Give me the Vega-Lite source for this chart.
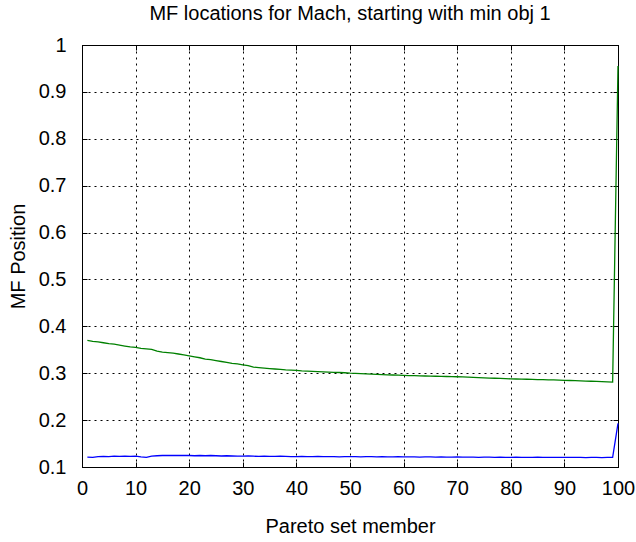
{
  "$schema": "https://vega.github.io/schema/vega-lite/v6.json",
  "width": 536,
  "height": 422,
  "autosize": {"type": "none"},
  "padding": {"left": 82, "top": 45, "right": 18, "bottom": 75},
  "background": "white",
  "title": {"text": "MF locations for Mach, starting with min obj 1", "font": "Liberation Sans", "fontSize": 20, "fontWeight": "normal", "color": "black", "offset": 11, "anchor": "middle"},
  "config": {
    "view": {"stroke": "black", "strokeWidth": 1},
    "axis": {"labelFont": "Liberation Sans", "titleFont": "Liberation Sans", "labelColor": "black", "titleColor": "black", "labelFontSize": 20, "titleFontSize": 20, "titleFontWeight": "normal", "domainColor": "black", "tickColor": "black", "tickSize": -5, "labelFlush": false}
  },
  "datasets": {
    "pts": [
      {"member": 1, "series": "g", "pos": 0.370}, {"member": 2, "series": "g", "pos": 0.368}, {"member": 3, "series": "g", "pos": 0.367}, {"member": 4, "series": "g", "pos": 0.365}, {"member": 5, "series": "g", "pos": 0.363},
      {"member": 6, "series": "g", "pos": 0.362}, {"member": 7, "series": "g", "pos": 0.360}, {"member": 8, "series": "g", "pos": 0.358}, {"member": 9, "series": "g", "pos": 0.356}, {"member": 10, "series": "g", "pos": 0.355},
      {"member": 11, "series": "g", "pos": 0.353}, {"member": 12, "series": "g", "pos": 0.352}, {"member": 13, "series": "g", "pos": 0.351}, {"member": 14, "series": "g", "pos": 0.347}, {"member": 15, "series": "g", "pos": 0.345},
      {"member": 16, "series": "g", "pos": 0.344}, {"member": 17, "series": "g", "pos": 0.343}, {"member": 18, "series": "g", "pos": 0.341}, {"member": 19, "series": "g", "pos": 0.339}, {"member": 20, "series": "g", "pos": 0.337},
      {"member": 21, "series": "g", "pos": 0.335}, {"member": 22, "series": "g", "pos": 0.333}, {"member": 23, "series": "g", "pos": 0.330}, {"member": 24, "series": "g", "pos": 0.329}, {"member": 25, "series": "g", "pos": 0.327},
      {"member": 26, "series": "g", "pos": 0.325}, {"member": 27, "series": "g", "pos": 0.323}, {"member": 28, "series": "g", "pos": 0.321}, {"member": 29, "series": "g", "pos": 0.320}, {"member": 30, "series": "g", "pos": 0.318},
      {"member": 31, "series": "g", "pos": 0.316}, {"member": 32, "series": "g", "pos": 0.313}, {"member": 33, "series": "g", "pos": 0.312}, {"member": 34, "series": "g", "pos": 0.311}, {"member": 35, "series": "g", "pos": 0.310},
      {"member": 36, "series": "g", "pos": 0.309}, {"member": 37, "series": "g", "pos": 0.308}, {"member": 38, "series": "g", "pos": 0.307}, {"member": 39, "series": "g", "pos": 0.3065}, {"member": 40, "series": "g", "pos": 0.306},
      {"member": 41, "series": "g", "pos": 0.305}, {"member": 42, "series": "g", "pos": 0.3045}, {"member": 43, "series": "g", "pos": 0.304}, {"member": 44, "series": "g", "pos": 0.3035}, {"member": 45, "series": "g", "pos": 0.303},
      {"member": 46, "series": "g", "pos": 0.3025}, {"member": 47, "series": "g", "pos": 0.302}, {"member": 48, "series": "g", "pos": 0.3015}, {"member": 49, "series": "g", "pos": 0.301}, {"member": 50, "series": "g", "pos": 0.300},
      {"member": 51, "series": "g", "pos": 0.2995}, {"member": 52, "series": "g", "pos": 0.299}, {"member": 53, "series": "g", "pos": 0.2985}, {"member": 54, "series": "g", "pos": 0.298}, {"member": 55, "series": "g", "pos": 0.2975},
      {"member": 56, "series": "g", "pos": 0.297}, {"member": 57, "series": "g", "pos": 0.2966}, {"member": 58, "series": "g", "pos": 0.2962}, {"member": 59, "series": "g", "pos": 0.2958}, {"member": 60, "series": "g", "pos": 0.2955},
      {"member": 61, "series": "g", "pos": 0.295}, {"member": 62, "series": "g", "pos": 0.2947}, {"member": 63, "series": "g", "pos": 0.2944}, {"member": 64, "series": "g", "pos": 0.2941}, {"member": 65, "series": "g", "pos": 0.2938},
      {"member": 66, "series": "g", "pos": 0.2935}, {"member": 67, "series": "g", "pos": 0.2932}, {"member": 68, "series": "g", "pos": 0.293}, {"member": 69, "series": "g", "pos": 0.2928}, {"member": 70, "series": "g", "pos": 0.2925},
      {"member": 71, "series": "g", "pos": 0.292}, {"member": 72, "series": "g", "pos": 0.2915}, {"member": 73, "series": "g", "pos": 0.291}, {"member": 74, "series": "g", "pos": 0.2905}, {"member": 75, "series": "g", "pos": 0.290},
      {"member": 76, "series": "g", "pos": 0.2897}, {"member": 77, "series": "g", "pos": 0.2893}, {"member": 78, "series": "g", "pos": 0.289}, {"member": 79, "series": "g", "pos": 0.2885}, {"member": 80, "series": "g", "pos": 0.288},
      {"member": 81, "series": "g", "pos": 0.2877}, {"member": 82, "series": "g", "pos": 0.2874}, {"member": 83, "series": "g", "pos": 0.2871}, {"member": 84, "series": "g", "pos": 0.2868}, {"member": 85, "series": "g", "pos": 0.2865},
      {"member": 86, "series": "g", "pos": 0.2862}, {"member": 87, "series": "g", "pos": 0.2859}, {"member": 88, "series": "g", "pos": 0.2856}, {"member": 89, "series": "g", "pos": 0.2852}, {"member": 90, "series": "g", "pos": 0.2848},
      {"member": 91, "series": "g", "pos": 0.2845}, {"member": 92, "series": "g", "pos": 0.2841}, {"member": 93, "series": "g", "pos": 0.2837}, {"member": 94, "series": "g", "pos": 0.2833}, {"member": 95, "series": "g", "pos": 0.2829},
      {"member": 96, "series": "g", "pos": 0.2825}, {"member": 97, "series": "g", "pos": 0.2821}, {"member": 98, "series": "g", "pos": 0.2817}, {"member": 99, "series": "g", "pos": 0.2812}, {"member": 100, "series": "g", "pos": 0.955},
      {"member": 1, "series": "b", "pos": 0.121}, {"member": 2, "series": "b", "pos": 0.1205}, {"member": 3, "series": "b", "pos": 0.122}, {"member": 4, "series": "b", "pos": 0.1225}, {"member": 5, "series": "b", "pos": 0.122},
      {"member": 6, "series": "b", "pos": 0.123}, {"member": 7, "series": "b", "pos": 0.1225}, {"member": 8, "series": "b", "pos": 0.123}, {"member": 9, "series": "b", "pos": 0.1225}, {"member": 10, "series": "b", "pos": 0.123},
      {"member": 11, "series": "b", "pos": 0.1215}, {"member": 12, "series": "b", "pos": 0.1205}, {"member": 13, "series": "b", "pos": 0.123}, {"member": 14, "series": "b", "pos": 0.124}, {"member": 15, "series": "b", "pos": 0.1245},
      {"member": 16, "series": "b", "pos": 0.1245}, {"member": 17, "series": "b", "pos": 0.125}, {"member": 18, "series": "b", "pos": 0.1245}, {"member": 19, "series": "b", "pos": 0.125}, {"member": 20, "series": "b", "pos": 0.1245},
      {"member": 21, "series": "b", "pos": 0.124}, {"member": 22, "series": "b", "pos": 0.1245}, {"member": 23, "series": "b", "pos": 0.124}, {"member": 24, "series": "b", "pos": 0.1245}, {"member": 25, "series": "b", "pos": 0.124},
      {"member": 26, "series": "b", "pos": 0.1235}, {"member": 27, "series": "b", "pos": 0.124}, {"member": 28, "series": "b", "pos": 0.1235}, {"member": 29, "series": "b", "pos": 0.123}, {"member": 30, "series": "b", "pos": 0.123},
      {"member": 31, "series": "b", "pos": 0.1235}, {"member": 32, "series": "b", "pos": 0.123}, {"member": 33, "series": "b", "pos": 0.1225}, {"member": 34, "series": "b", "pos": 0.123}, {"member": 35, "series": "b", "pos": 0.1225},
      {"member": 36, "series": "b", "pos": 0.1225}, {"member": 37, "series": "b", "pos": 0.123}, {"member": 38, "series": "b", "pos": 0.1225}, {"member": 39, "series": "b", "pos": 0.122}, {"member": 40, "series": "b", "pos": 0.122},
      {"member": 41, "series": "b", "pos": 0.1225}, {"member": 42, "series": "b", "pos": 0.122}, {"member": 43, "series": "b", "pos": 0.122}, {"member": 44, "series": "b", "pos": 0.1225}, {"member": 45, "series": "b", "pos": 0.122},
      {"member": 46, "series": "b", "pos": 0.122}, {"member": 47, "series": "b", "pos": 0.122}, {"member": 48, "series": "b", "pos": 0.1215}, {"member": 49, "series": "b", "pos": 0.122}, {"member": 50, "series": "b", "pos": 0.122},
      {"member": 51, "series": "b", "pos": 0.122}, {"member": 52, "series": "b", "pos": 0.1215}, {"member": 53, "series": "b", "pos": 0.122}, {"member": 54, "series": "b", "pos": 0.122}, {"member": 55, "series": "b", "pos": 0.1215},
      {"member": 56, "series": "b", "pos": 0.122}, {"member": 57, "series": "b", "pos": 0.1215}, {"member": 58, "series": "b", "pos": 0.1215}, {"member": 59, "series": "b", "pos": 0.122}, {"member": 60, "series": "b", "pos": 0.1215},
      {"member": 61, "series": "b", "pos": 0.1215}, {"member": 62, "series": "b", "pos": 0.1215}, {"member": 63, "series": "b", "pos": 0.121}, {"member": 64, "series": "b", "pos": 0.1215}, {"member": 65, "series": "b", "pos": 0.1215},
      {"member": 66, "series": "b", "pos": 0.121}, {"member": 67, "series": "b", "pos": 0.1215}, {"member": 68, "series": "b", "pos": 0.121}, {"member": 69, "series": "b", "pos": 0.121}, {"member": 70, "series": "b", "pos": 0.1215},
      {"member": 71, "series": "b", "pos": 0.121}, {"member": 72, "series": "b", "pos": 0.121}, {"member": 73, "series": "b", "pos": 0.121}, {"member": 74, "series": "b", "pos": 0.1205}, {"member": 75, "series": "b", "pos": 0.121},
      {"member": 76, "series": "b", "pos": 0.121}, {"member": 77, "series": "b", "pos": 0.1205}, {"member": 78, "series": "b", "pos": 0.121}, {"member": 79, "series": "b", "pos": 0.1205}, {"member": 80, "series": "b", "pos": 0.1205},
      {"member": 81, "series": "b", "pos": 0.121}, {"member": 82, "series": "b", "pos": 0.1205}, {"member": 83, "series": "b", "pos": 0.1205}, {"member": 84, "series": "b", "pos": 0.1205}, {"member": 85, "series": "b", "pos": 0.121},
      {"member": 86, "series": "b", "pos": 0.1205}, {"member": 87, "series": "b", "pos": 0.1205}, {"member": 88, "series": "b", "pos": 0.1205}, {"member": 89, "series": "b", "pos": 0.1205}, {"member": 90, "series": "b", "pos": 0.1205},
      {"member": 91, "series": "b", "pos": 0.1205}, {"member": 92, "series": "b", "pos": 0.1205}, {"member": 93, "series": "b", "pos": 0.1205}, {"member": 94, "series": "b", "pos": 0.12}, {"member": 95, "series": "b", "pos": 0.1205},
      {"member": 96, "series": "b", "pos": 0.1205}, {"member": 97, "series": "b", "pos": 0.12}, {"member": 98, "series": "b", "pos": 0.1205}, {"member": 99, "series": "b", "pos": 0.1205}, {"member": 100, "series": "b", "pos": 0.193}
    ]
  },
  "data": {"name": "pts"},
  "layer": [
    {
      "mark": {"type": "line", "strokeWidth": 1.3},
      "encoding": {
        "x": {"field": "member", "type": "quantitative", "scale": {"domain": [0, 100], "nice": false},
              "axis": {"orient": "bottom", "values": [0, 10, 20, 30, 40, 50, 60, 70, 80, 90, 100], "title": "Pareto set member", "labelPadding": 16, "titlePadding": 18, "grid": true, "gridColor": "black", "gridDash": [2, 4], "gridOpacity": 1, "gridWidth": 1}},
        "y": {"field": "pos", "type": "quantitative", "scale": {"domain": [0.1, 1], "nice": false, "zero": false},
              "axis": {"orient": "left", "values": [0.1, 0.2, 0.3, 0.4, 0.5, 0.6, 0.7, 0.8, 0.9, 1], "format": "~g", "title": "MF Position", "labelPadding": 21, "titlePadding": 10, "grid": true, "gridColor": "black", "gridDash": [2, 4], "gridOpacity": 1, "gridWidth": 1}},
        "color": {"field": "series", "type": "nominal", "scale": {"domain": ["g", "b"], "range": ["#008000", "#0000ff"]}, "legend": null},
        "order": {"field": "member", "type": "quantitative"}
      }
    },
    {
      "mark": {"type": "line", "opacity": 0},
      "encoding": {
        "x": {"field": "member", "type": "quantitative", "scale": {"domain": [0, 100], "nice": false},
              "axis": {"orient": "top", "values": [0, 10, 20, 30, 40, 50, 60, 70, 80, 90, 100], "labels": false, "title": null, "grid": false}},
        "y": {"field": "pos", "type": "quantitative", "scale": {"domain": [0.1, 1], "nice": false, "zero": false},
              "axis": {"orient": "right", "values": [0.1, 0.2, 0.3, 0.4, 0.5, 0.6, 0.7, 0.8, 0.9, 1], "labels": false, "title": null, "grid": false}},
        "detail": {"field": "series", "type": "nominal"}
      }
    }
  ],
  "resolve": {"axis": {"x": "independent", "y": "independent"}}
}
